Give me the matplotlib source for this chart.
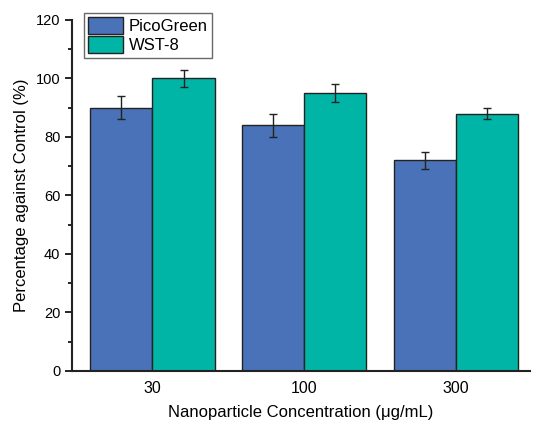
import matplotlib
matplotlib.use("Agg")
import matplotlib.pyplot as plt
import numpy as np

plt.rcParams['font.family'] = ['Liberation Sans', 'DejaVu Sans']

categories = ["30", "100", "300"]
series_names = ["PicoGreen", "WST-8"]
picogreen = [90, 84, 72]
picogreen_err = [4, 4, 3]
wst8 = [100, 95, 88]
wst8_err = [3, 3, 2]

colors = ["#4a72b8", "#00b5a5"]

fig = plt.figure(figsize=(5.34, 4.23), dpi=100)
ax = fig.add_axes([0.135, 0.123, 0.858, 0.830])

x = np.arange(len(categories))
w = 0.41
ekw = dict(ecolor="#222222", elinewidth=1.0, capsize=3, capthick=1.0)
ax.bar(x - w/2, picogreen, w, yerr=picogreen_err, color=colors[0],
       edgecolor="#222222", linewidth=1.0, label=series_names[0], error_kw=ekw)
ax.bar(x + w/2, wst8, w, yerr=wst8_err, color=colors[1],
       edgecolor="#222222", linewidth=1.0, label=series_names[1], error_kw=ekw)

ax.set_xlim(-0.53, 2.49)
ax.set_ylim(0, 120)
ax.set_yticks(np.arange(0, 121, 20))
ax.set_yticks(np.arange(10, 121, 20), minor=True)
ax.set_xticks(x)
ax.set_xticklabels(categories)
ax.tick_params(axis='x', length=0, labelsize=11.5, pad=7)
ax.tick_params(axis='y', which='major', length=5, width=1.2, labelsize=10.5)
ax.tick_params(axis='y', which='minor', length=3, width=1.2)
for s in ['top', 'right']:
    ax.spines[s].set_visible(False)
for s in ['left', 'bottom']:
    ax.spines[s].set_linewidth(1.5)
    ax.spines[s].set_color("#222222")

ax.set_xlabel("Nanoparticle Concentration (\u03bcg/mL)", fontsize=12, labelpad=7)
ax.set_ylabel("Percentage against Control (%)", fontsize=12, labelpad=5)

leg = ax.legend(loc='upper left', bbox_to_anchor=(0.025, 1.02), fontsize=12,
                frameon=True, fancybox=False, edgecolor="#444444",
                handlelength=2.1, handleheight=1.2, borderpad=0.25,
                labelspacing=0.12, handletextpad=0.35, borderaxespad=0)
leg.get_frame().set_linewidth(1.0)
for p in leg.get_patches():
    p.set_edgecolor("#222222")

fig.savefig("out.png", dpi=100)
